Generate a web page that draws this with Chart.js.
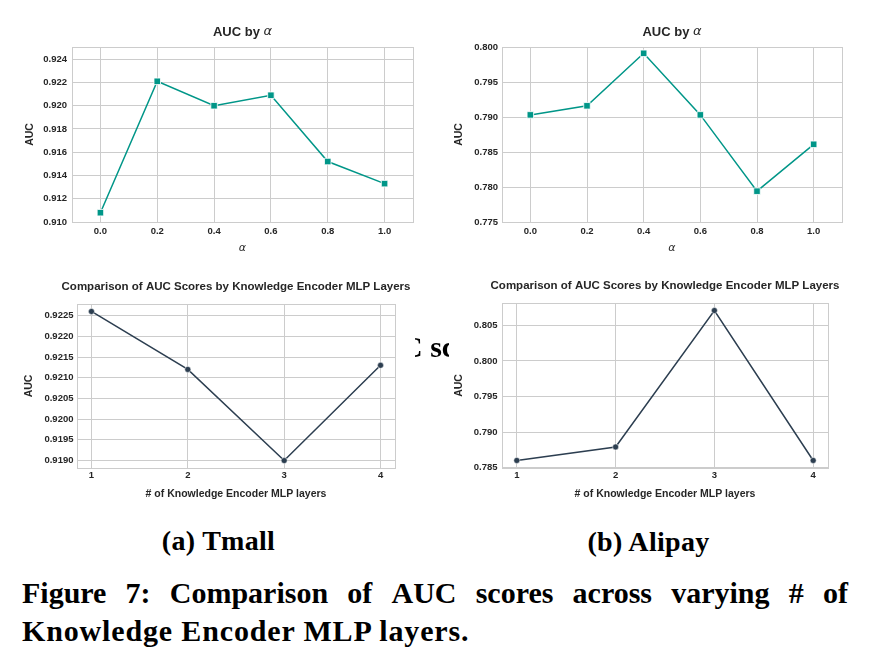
<!DOCTYPE html>
<html><head><meta charset="utf-8">
<script src="https://cdn.jsdelivr.net/npm/chart.js@4"></script>
<style>
html,body{margin:0;padding:0;background:#fff;}
body{width:886px;height:664px;position:relative;overflow:hidden;}
canvas{position:absolute;}
.cap{position:absolute;font-family:'Liberation Serif','Times New Roman',serif;font-weight:bold;color:#000;white-space:nowrap;}
</style></head><body>
<canvas id="c1" width="443" height="262" style="left:0px;top:0px;width:443px;height:262px"></canvas>
<canvas id="c2" width="443" height="262" style="left:443px;top:0px;width:443px;height:262px"></canvas>
<canvas id="c3" width="443" height="245" style="left:0px;top:265px;width:443px;height:245px"></canvas>
<canvas id="c4" width="443" height="245" style="left:443px;top:265px;width:443px;height:245px"></canvas>

<div style="position:absolute;left:415px;top:330px;width:34px;height:34px;overflow:hidden;">
  <div class="cap" style="left:-14px;top:2px;font-size:30px;line-height:30px;">C sc</div>
</div>
<div class="cap" style="left:218.5px;top:527px;font-size:28px;line-height:28px;transform:translateX(-50%);letter-spacing:0.3px;">(a) Tmall</div>
<div class="cap" style="left:648.5px;top:528px;font-size:28px;line-height:28px;transform:translateX(-50%);letter-spacing:0.3px;">(b) Alipay</div>
<div class="cap" style="left:22px;top:574px;width:826px;font-size:30px;line-height:38px;display:flex;justify-content:space-between;">
  <span>Figure</span><span>7:</span><span>Comparison</span><span>of</span><span>AUC</span><span>scores</span><span>across</span><span>varying</span><span>#</span><span>of</span>
</div>
<div class="cap" style="left:22px;top:612px;font-size:30px;line-height:38px;letter-spacing:0.85px;">Knowledge Encoder MLP layers.</div>

<script>
// ---------------- DATA ----------------
const alphaValues = [0.0, 0.2, 0.4, 0.6, 0.8, 1.0];
const tmallAlphaAUC = [0.9108, 0.9221, 0.9200, 0.9209, 0.9152, 0.9133];
const alipayAlphaAUC = [0.7903, 0.7916, 0.7991, 0.7903, 0.7794, 0.7861];

const mlpLayers = [1, 2, 3, 4];
const tmallMlpAUC = [0.9226, 0.9212, 0.9190, 0.9213];
const alipayMlpAUC = [0.7860, 0.7879, 0.8071, 0.7860];

const alphaTickValues = [0.0, 0.2, 0.4, 0.6, 0.8, 1.0];
const alphaTickLabels = ['0.0', '0.2', '0.4', '0.6', '0.8', '1.0'];
const layerTickValues = [1, 2, 3, 4];
const layerTickLabels = ['1', '2', '3', '4'];

const tmallAlphaYTicks = [0.910, 0.912, 0.914, 0.916, 0.918, 0.920, 0.922, 0.924];
const tmallAlphaYLabels = ['0.910', '0.912', '0.914', '0.916', '0.918', '0.920', '0.922', '0.924'];
const alipayAlphaYTicks = [0.775, 0.780, 0.785, 0.790, 0.795, 0.800];
const alipayAlphaYLabels = ['0.775', '0.780', '0.785', '0.790', '0.795', '0.800'];
const tmallMlpYTicks = [0.9190, 0.9195, 0.9200, 0.9205, 0.9210, 0.9215, 0.9220, 0.9225];
const tmallMlpYLabels = ['0.9190', '0.9195', '0.9200', '0.9205', '0.9210', '0.9215', '0.9220', '0.9225'];
const alipayMlpYTicks = [0.785, 0.790, 0.795, 0.800, 0.805];
const alipayMlpYLabels = ['0.785', '0.790', '0.795', '0.800', '0.805'];

const alphaTitle = 'AUC by ';
const alphaSymbol = 'α';
const mlpTitle = 'Comparison of AUC Scores by Knowledge Encoder MLP Layers';
const mlpXTitle = '# of Knowledge Encoder MLP layers';
const yTitle = 'AUC';

// ---------------- STYLE / LAYOUT ----------------
const SANS = "'Liberation Sans', Arial, Helvetica, sans-serif";
const TEXT = '#262626';
const GRID = '#cccccc';

const framePlugin = {
  id: 'frame',
  beforeDatasetsDraw(chart) {
    const a = chart.chartArea, ctx = chart.ctx;
    ctx.save();
    ctx.strokeStyle = GRID;
    ctx.lineWidth = 1;
    ctx.strokeRect(Math.round(a.left) + 0.5, Math.round(a.top) + 0.5,
                   Math.round(a.right) - Math.round(a.left), Math.round(a.bottom) - Math.round(a.top));
    ctx.restore();
  }
};

const titlePlugin = {
  id: 'panelTitle',
  afterDraw(chart, args, opts) {
    const a = chart.chartArea, ctx = chart.ctx;
    const cx = (a.left + a.right) / 2;
    ctx.save();
    ctx.textBaseline = 'middle';
    ctx.textAlign = 'left';
    ctx.fillStyle = TEXT;
    let total = 0;
    const ws = opts.parts.map(p => { ctx.font = p.font; const w = ctx.measureText(p.text).width; total += w; return w; });
    let x = cx - total / 2;
    opts.parts.forEach((p, i) => { ctx.font = p.font; ctx.fillText(p.text, x, opts.y); x += ws[i]; });
    ctx.restore();
  }
};

function makePanel(id, cfg) {
  const canvas = document.getElementById(id);
  const H = canvas.height, W = canvas.width;
  const area = cfg.area;
  const points = cfg.xs.map((x, i) => ({ x: x, y: cfg.ys[i] }));
  return new Chart(canvas, {
    type: 'line',
    data: {
      datasets: [{
        data: points,
        borderColor: cfg.color,
        borderWidth: 1.5,
        backgroundColor: cfg.color,
        pointStyle: cfg.pointStyle,
        pointRadius: cfg.pointRadius,
        pointHoverRadius: cfg.pointRadius,
        pointBackgroundColor: cfg.color,
        pointBorderColor: '#ffffff',
        pointBorderWidth: cfg.pointBorder,
        tension: 0,
        fill: false,
        clip: false
      }]
    },
    options: {
      responsive: false,
      animation: false,
      devicePixelRatio: 1,
      layout: { padding: { top: area.t, left: 0, right: W - area.r, bottom: 0 } },
      plugins: {
        legend: { display: false },
        tooltip: { enabled: false },
        title: { display: false },
        panelTitle: { parts: cfg.titleParts, y: cfg.titleY }
      },
      scales: {
        x: {
          type: 'linear',
          min: cfg.xMin, max: cfg.xMax,
          afterFit(s) { s.height = H - area.b; },
          afterBuildTicks(s) { s.ticks = cfg.xTicks.map(v => ({ value: v })); },
          grid: { color: GRID, lineWidth: 1, drawTicks: false },
          border: { display: false },
          ticks: {
            padding: cfg.xTickPad,
            color: TEXT,
            font: { family: SANS, size: 9.5, weight: 'bold' },
            maxRotation: 0,
            autoSkip: false,
            callback: (v, i) => cfg.xLabels[i]
          },
          title: {
            display: true,
            text: cfg.xTitle,
            color: TEXT,
            font: cfg.xTitleFont,
            padding: { top: 0, bottom: cfg.xTitlePad }
          }
        },
        y: {
          type: 'linear',
          min: cfg.yMin, max: cfg.yMax,
          afterFit(s) { s.width = area.l; },
          afterBuildTicks(s) { s.ticks = cfg.yTicks.map(v => ({ value: v })); },
          grid: { color: GRID, lineWidth: 1, drawTicks: false },
          border: { display: false },
          ticks: {
            padding: cfg.yTickPad,
            color: TEXT,
            font: { family: SANS, size: 9.5, weight: 'bold' },
            autoSkip: false,
            callback: (v, i) => cfg.yLabels[i]
          },
          title: {
            display: true,
            text: yTitle,
            color: TEXT,
            font: { family: SANS, size: 10.5, weight: 'bold' },
            padding: { top: cfg.yTitlePad, bottom: 0 }
          }
        }
      }
    },
    plugins: [framePlugin, titlePlugin]
  });
}

const TEAL = '#009688';
const SLATE = '#2c3e50';
const alphaTitleParts = [
  { text: alphaTitle, font: "bold 13px " + SANS },
  { text: alphaSymbol, font: "italic 13px 'DejaVu Sans', sans-serif" }
];
const mlpTitleParts = [{ text: mlpTitle, font: "bold 11.5px " + SANS }];
const alphaXFont = { family: "'DejaVu Sans', sans-serif", size: 11, style: 'italic' };
const mlpXFont = { family: SANS, size: 10.5, weight: 'bold' };

makePanel('c1', {
  area: { l: 72, r: 413, t: 47, b: 222 },
  xs: alphaValues, ys: tmallAlphaAUC,
  xMin: -0.1, xMax: 1.1, yMin: 0.910, yMax: 0.92505,
  xTicks: alphaTickValues, xLabels: alphaTickLabels,
  yTicks: tmallAlphaYTicks, yLabels: tmallAlphaYLabels,
  color: TEAL, pointStyle: 'rect', pointRadius: 4.6, pointBorder: 0.8,
  titleParts: alphaTitleParts, titleY: 32,
  xTitle: alphaSymbol, xTitleFont: alphaXFont, xTitlePad: 7,
  xTickPad: 3.4, yTickPad: 5, yTitlePad: 23.7
});
makePanel('c2', {
  area: { l: 59, r: 399, t: 47, b: 222 },
  xs: alphaValues, ys: alipayAlphaAUC,
  xMin: -0.1, xMax: 1.1, yMin: 0.775, yMax: 0.800,
  xTicks: alphaTickValues, xLabels: alphaTickLabels,
  yTicks: alipayAlphaYTicks, yLabels: alipayAlphaYLabels,
  color: TEAL, pointStyle: 'rect', pointRadius: 4.6, pointBorder: 0.8,
  titleParts: alphaTitleParts, titleY: 32,
  xTitle: alphaSymbol, xTitleFont: alphaXFont, xTitlePad: 7,
  xTickPad: 3.4, yTickPad: 4, yTitlePad: 9.6
});
makePanel('c3', {
  area: { l: 77, r: 395, t: 39, b: 203 },
  xs: mlpLayers, ys: tmallMlpAUC,
  xMin: 0.85, xMax: 4.15, yMin: 0.91882, yMax: 0.92278,
  xTicks: layerTickValues, xLabels: layerTickLabels,
  yTicks: tmallMlpYTicks, yLabels: tmallMlpYLabels,
  color: SLATE, pointStyle: 'circle', pointRadius: 3, pointBorder: 0.5,
  titleParts: mlpTitleParts, titleY: 22,
  xTitle: mlpXTitle, xTitleFont: mlpXFont, xTitlePad: 9.7,
  xTickPad: 2, yTickPad: 3.5, yTitlePad: 22.7
});
makePanel('c4', {
  area: { l: 59, r: 385, t: 38, b: 203 },
  xs: mlpLayers, ys: alipayMlpAUC,
  xMin: 0.85, xMax: 4.15, yMin: 0.78494, yMax: 0.80816,
  xTicks: layerTickValues, xLabels: layerTickLabels,
  yTicks: alipayMlpYTicks, yLabels: alipayMlpYLabels,
  color: SLATE, pointStyle: 'circle', pointRadius: 3, pointBorder: 0.5,
  titleParts: mlpTitleParts, titleY: 21,
  xTitle: mlpXTitle, xTitleFont: mlpXFont, xTitlePad: 9.7,
  xTickPad: 2, yTickPad: 4.5, yTitlePad: 10.2
});
</script>
</body></html>
